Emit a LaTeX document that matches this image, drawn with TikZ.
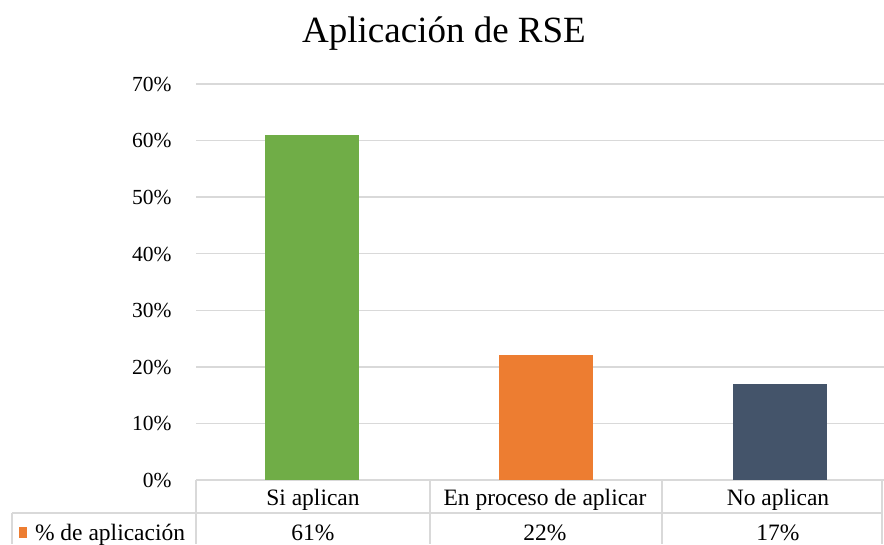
\documentclass[tikz,border=0pt]{standalone}
\usepackage{fontspec}
\setmainfont{Liberation Serif}
\usepackage{tikz}
\usetikzlibrary{calc}

\definecolor{rejilla}{HTML}{D9D9D9}
\definecolor{verde}{HTML}{70AD47}
\definecolor{naranja}{HTML}{ED7D31}
\definecolor{pizarra}{HTML}{44546A}

\begin{document}
\begin{tikzpicture}[x=1pt,y=-1pt]
       \tikzstyle{linea} = [draw=rejilla, line width=1.4pt];
       \tikzstyle{barra} = [rectangle, inner sep=0pt, minimum width=94pt, anchor=south];
       \tikzstyle{eje} = [font=\fontsize{21.5}{25}\selectfont, anchor=base east];
       \tikzstyle{celda} = [font=\fontsize{23.5}{27}\selectfont, anchor=base];

       \useasboundingbox (0,0) rectangle (884,544);

       \node[anchor=base, font=\fontsize{37}{42}\selectfont](titulo) at (444,42) {Aplicación de RSE};

       % rejilla y eje vertical
       \foreach \p [evaluate=\p as \v using int(10*\p)] in {0,...,7} {
         \draw[linea] (196,480-56.6*\p) -- (884,480-56.6*\p);
         \node[eje](eje\p) at (175,487.5-56.6*\p) {\v\%};
       }

       \node[barra, fill=verde, minimum height=345.3pt](si) at (312,480) {};
       \node[barra, fill=naranja, minimum height=124.5pt](proceso) at (546,480) {};
       \node[barra, fill=pizarra, minimum height=96.2pt](no) at (780,480) {};

       % tabla de datos
       \draw[linea] (12,513) -- (882,513);
       \draw[linea] (12,513) -- (12,544);
       \draw[linea] (196,480) -- (196,544);
       \draw[linea] (430,480) -- (430,544);
       \draw[linea] (662,480) -- (662,544);
       \draw[linea] (882,480) -- (882,544);

       \node[celda](catsi) at (313,505) {Si aplican};
       \node[celda](catproceso) at (545,505) {En proceso de aplicar};
       \node[celda](catno) at (778,505) {No aplican};

       \node[rectangle, fill=naranja, inner sep=0pt, minimum width=8.5pt, minimum height=11pt](clave) at (23,532) {};
       \node[celda, anchor=base west](serie) at (31.5,540) {\% de aplicación};
       \node[celda](valsi) at (313,540) {61\%};
       \node[celda](valproceso) at (545,540) {22\%};
       \node[celda](valno) at (778,540) {17\%};
\end{tikzpicture}
\end{document}
